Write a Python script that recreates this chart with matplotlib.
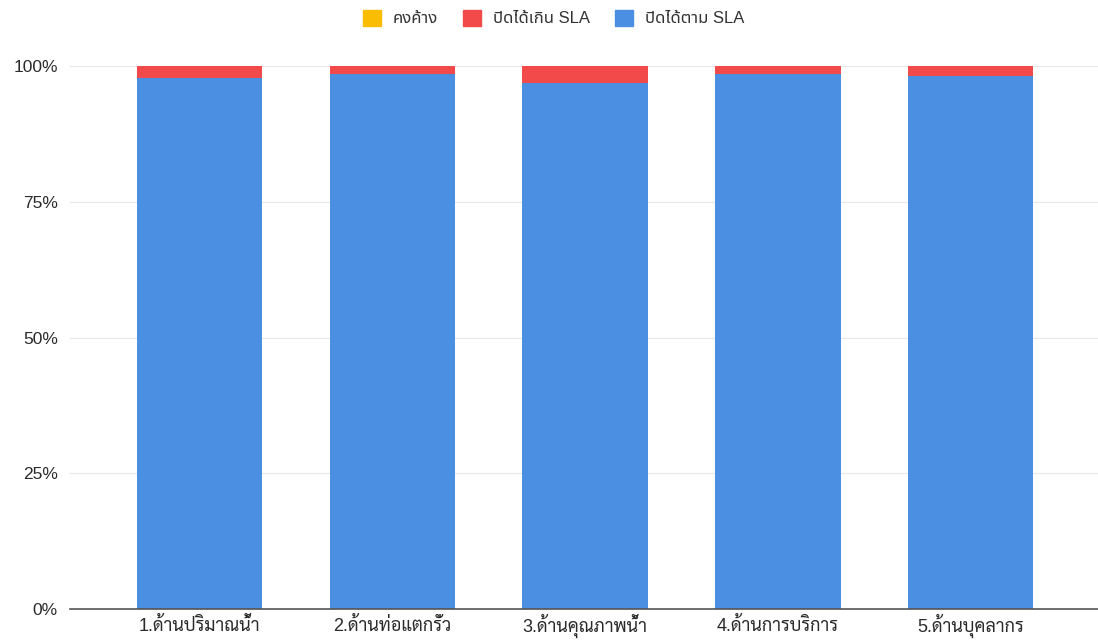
import matplotlib
matplotlib.use("Agg")
import matplotlib.pyplot as plt
from matplotlib import font_manager
from matplotlib.ticker import FuncFormatter
from matplotlib.patches import Patch

# pick Thai fonts that are installed
names = {f.name for f in font_manager.fontManager.ttflist}


def pick(prefs):
    for n in prefs:
        if n in names:
            return n
    return "DejaVu Sans"


thai = pick(["Sarabun", "Noto Sans Thai Looped", "Noto Sans Thai", "Anuphan"])
thai_legend = pick(["Noto Sans Thai", "Anuphan", "Bai Jamjuree", thai])
plt.rcParams["font.family"] = ["Liberation Sans", thai]

# Data (percent of cases)
categories = ["1.ด้านปริมาณน้ำ", "2.ด้านท่อแตกรั่ว", "3.ด้านคุณภาพน้ำ", "4.ด้านการบริการ", "5.ด้านบุคลากร"]
on_time = [97.9, 98.6, 96.9, 98.6, 98.2]   # ปิดได้ตาม SLA
late = [2.1, 1.4, 3.1, 1.4, 1.8]           # ปิดได้เกิน SLA
pending = [0, 0, 0, 0, 0]                  # คงค้าง
series_names = ["คงค้าง", "ปิดได้เกิน SLA", "ปิดได้ตาม SLA"]
colors = ["#fbbc04", "#f24a4a", "#4a8fe2"]

fig = plt.figure(figsize=(10.98, 6.42), dpi=100)
ax = fig.add_axes([0.064, 0.051, 0.936, 0.846])

x = range(len(categories))
ax.bar(x, on_time, width=0.65, color=colors[2], zorder=2)
ax.bar(x, late, width=0.65, bottom=on_time, color=colors[1], zorder=2)
top = [a + b for a, b in zip(on_time, late)]
ax.bar(x, pending, width=0.65, bottom=top, color=colors[0], zorder=2)

ax.set_xlim(-0.67, 4.66)
ax.set_ylim(0, 100)
ax.set_yticks([0, 25, 50, 75, 100])
ax.yaxis.set_major_formatter(FuncFormatter(lambda v, p: f"{v:.0f}%"))
ax.set_xticks(list(x))
ax.set_xticklabels(categories)
ax.tick_params(axis="both", length=0, colors="#2a2a2a")
ax.tick_params(axis="x", labelsize=13, pad=16)
ax.tick_params(axis="y", labelsize=12.5, pad=9)
for lab in ax.get_xticklabels():
    lab.set_verticalalignment("baseline")
ax.grid(axis="y", color="#e8e8e8", linewidth=0.8, zorder=0)
for s in ["top", "right", "left"]:
    ax.spines[s].set_visible(False)
ax.spines["bottom"].set_color("#555555")
ax.spines["bottom"].set_linewidth(1.2)
ax.spines["bottom"].set_zorder(3)

handles = [Patch(color=c) for c in colors]
fig.legend(handles, series_names, loc="center", bbox_to_anchor=(0.504, 0.972), ncol=3,
           frameon=False, prop={"family": ["Liberation Sans", thai_legend], "size": 12},
           handlelength=1.1, handleheight=1.1, handletextpad=0.7, columnspacing=1.5,
           labelcolor="#333333")

fig.savefig("out.png", dpi=100)
